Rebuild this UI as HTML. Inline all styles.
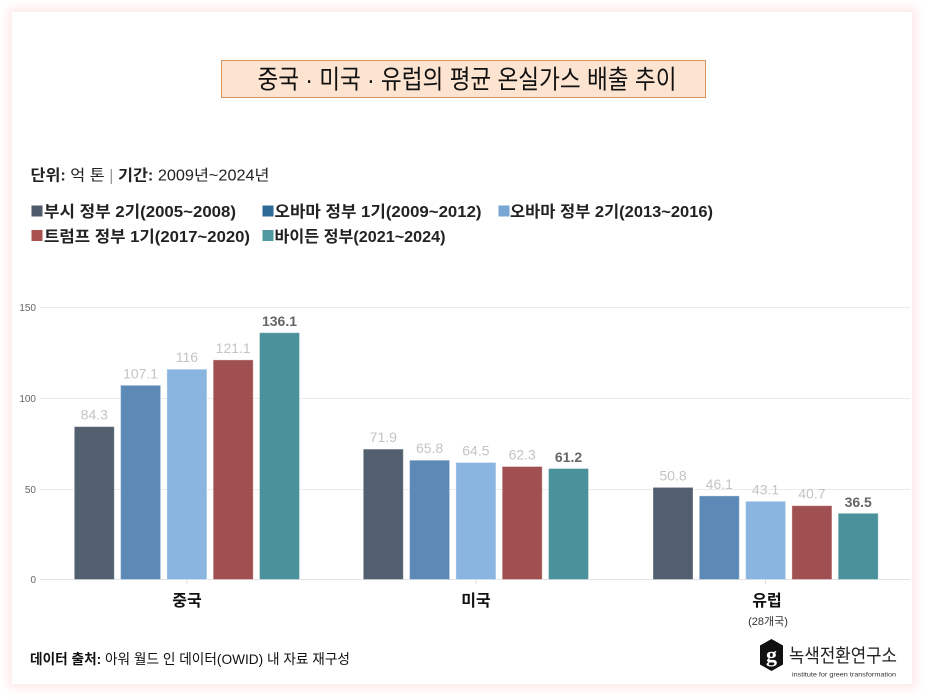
<!DOCTYPE html>
<html lang="ko">
<head>
<meta charset="utf-8">
<style>
  html,body{margin:0;padding:0;background:#ffffff;}
  body{width:925px;height:698px;position:relative;overflow:hidden;}
  .card{position:absolute;left:12px;top:12px;width:900px;height:672px;background:#fff;
        box-shadow:0 0 10px 4px rgba(255,190,190,0.35);}
  svg{position:absolute;left:0;top:0;}
  text{font-family:"Liberation Sans","Noto Sans CJK KR",sans-serif;}
</style>
</head>
<body>
<div class="card"></div>
<svg width="925" height="698" viewBox="0 0 925 698" xmlns="http://www.w3.org/2000/svg">
  <!-- Title box -->
  <rect x="221.5" y="60.5" width="484" height="37" fill="#fde4d1" stroke="#d9935c" stroke-width="1"/>
  <text x="257.5" y="88.5" font-size="26" fill="#111" textLength="419" lengthAdjust="spacingAndGlyphs">중국 · 미국 · 유럽의 평균 온실가스 배출 추이</text>

  <!-- Unit line -->
  <text x="30.5" y="180.5" font-size="15.5" fill="#222" textLength="239" lengthAdjust="spacingAndGlyphs"><tspan font-weight="bold">단위:</tspan> 억 톤 <tspan fill="#999">|</tspan> <tspan font-weight="bold">기간:</tspan> 2009년~2024년</text>

  <!-- Legend -->
  <rect x="31.5" y="205.5" width="11" height="11" fill="#4f5a6a"/>
  <text x="44" y="217" font-size="16" font-weight="bold" fill="#222" textLength="192" lengthAdjust="spacingAndGlyphs">부시 정부 2기(2005~2008)</text>
  <rect x="262.5" y="205.5" width="11" height="11" fill="#2d6a94"/>
  <text x="274.5" y="217" font-size="16" font-weight="bold" fill="#222" textLength="207" lengthAdjust="spacingAndGlyphs">오바마 정부 1기(2009~2012)</text>
  <rect x="498.5" y="205.5" width="11" height="11" fill="#79a6d4"/>
  <text x="510" y="217" font-size="16" font-weight="bold" fill="#222" textLength="203" lengthAdjust="spacingAndGlyphs">오바마 정부 2기(2013~2016)</text>
  <rect x="31.5" y="230" width="11" height="11" fill="#a8514f"/>
  <text x="44" y="242" font-size="16" font-weight="bold" fill="#222" textLength="206" lengthAdjust="spacingAndGlyphs">트럼프 정부 1기(2017~2020)</text>
  <rect x="262.5" y="230" width="11" height="11" fill="#4f9aa1"/>
  <text x="274.5" y="242" font-size="16" font-weight="bold" fill="#222" textLength="171" lengthAdjust="spacingAndGlyphs">바이든 정부(2021~2024)</text>

  <!-- Gridlines -->
  <g stroke="#ebebeb" stroke-width="1">
    <line x1="40" y1="307.5" x2="910" y2="307.5"/>
    <line x1="40" y1="398.5" x2="910" y2="398.5"/>
    <line x1="40" y1="489.5" x2="910" y2="489.5"/>
    <line x1="40" y1="579.5" x2="910" y2="579.5" stroke="#e4e4e4"/>
  </g>
  <g stroke="#dddddd" stroke-width="1">
    <line x1="187" y1="580" x2="187" y2="584"/>
    <line x1="476" y1="580" x2="476" y2="584"/>
    <line x1="765.5" y1="580" x2="765.5" y2="584"/>
  </g>
  <!-- Y tick labels -->
  <g font-size="10" fill="#666" text-anchor="end">
    <text x="36" y="311">150</text>
    <text x="36" y="402">100</text>
    <text x="36" y="493">50</text>
    <text x="36" y="583">0</text>
  </g>

  <!-- Bars: China -->
  <g stroke="rgba(255,255,255,0.35)" stroke-width="1">
    <rect x="74.3" y="426.6" width="40" height="152.9" fill="#525f6f"/>
    <rect x="120.6" y="385.3" width="40" height="194.2" fill="#5d89b6"/>
    <rect x="166.9" y="369.2" width="40" height="210.3" fill="#8ab5e0"/>
    <rect x="213.2" y="359.9" width="40" height="219.6" fill="#a05050"/>
    <rect x="259.5" y="332.7" width="40" height="246.8" fill="#4a919c"/>
    <!-- US -->
    <rect x="363.3" y="449.1" width="40" height="130.4" fill="#525f6f"/>
    <rect x="409.6" y="460.2" width="40" height="119.3" fill="#5d89b6"/>
    <rect x="455.9" y="462.5" width="40" height="117.0" fill="#8ab5e0"/>
    <rect x="502.2" y="466.5" width="40" height="113.0" fill="#a05050"/>
    <rect x="548.5" y="468.5" width="40" height="111.0" fill="#4a919c"/>
    <!-- EU -->
    <rect x="653" y="487.4" width="40" height="92.1" fill="#525f6f"/>
    <rect x="699.3" y="495.9" width="40" height="83.6" fill="#5d89b6"/>
    <rect x="745.6" y="501.3" width="40" height="78.2" fill="#8ab5e0"/>
    <rect x="791.9" y="505.7" width="40" height="73.8" fill="#a05050"/>
    <rect x="838.2" y="513.3" width="40" height="66.2" fill="#4a919c"/>
  </g>

  <!-- Value labels -->
  <g font-size="14" text-anchor="middle" fill="#c4c4c4">
    <text x="94.3" y="419.6">84.3</text>
    <text x="140.6" y="378.3">107.1</text>
    <text x="186.9" y="362.2">116</text>
    <text x="233.2" y="352.9">121.1</text>
    <text x="279.5" y="326.2" fill="#666" font-weight="bold">136.1</text>
    <text x="383.3" y="442.1">71.9</text>
    <text x="429.6" y="453.2">65.8</text>
    <text x="475.9" y="455.5">64.5</text>
    <text x="522.2" y="459.5">62.3</text>
    <text x="568.5" y="462" fill="#666" font-weight="bold">61.2</text>
    <text x="673" y="480.4">50.8</text>
    <text x="719.3" y="488.9">46.1</text>
    <text x="765.6" y="494.3">43.1</text>
    <text x="811.9" y="498.7">40.7</text>
    <text x="858.2" y="506.8" fill="#666" font-weight="bold">36.5</text>
  </g>

  <!-- Category labels -->
  <g font-size="16" font-weight="bold" fill="#111" text-anchor="middle">
    <text x="187" y="606">중국</text>
    <text x="476" y="606">미국</text>
    <text x="767" y="606">유럽</text>
  </g>
  <text x="768" y="625" font-size="11" fill="#333" text-anchor="middle">(28개국)</text>

  <!-- Footer -->
  <text x="30" y="664" font-size="14" fill="#111" textLength="320" lengthAdjust="spacingAndGlyphs"><tspan font-weight="bold">데이터 출처:</tspan> 아워 월드 인 데이터(OWID) 내 자료 재구성</text>

  <!-- Logo -->
  <polygon points="771.5,639 783,645.5 783,664.5 771.5,671 760,664.5 760,645.5" fill="#111"/>
  <text x="771.5" y="662" font-size="22" font-weight="bold" fill="#fff" text-anchor="middle" style="font-family:'Liberation Serif',serif;">g</text>
  <text x="789" y="662" font-size="19" fill="#222" textLength="108" lengthAdjust="spacingAndGlyphs">녹색전환연구소</text>
  <text x="792" y="676.5" font-size="6.5" fill="#333" textLength="104" lengthAdjust="spacingAndGlyphs">institute for green transformation</text>
</svg>
</body>
</html>
